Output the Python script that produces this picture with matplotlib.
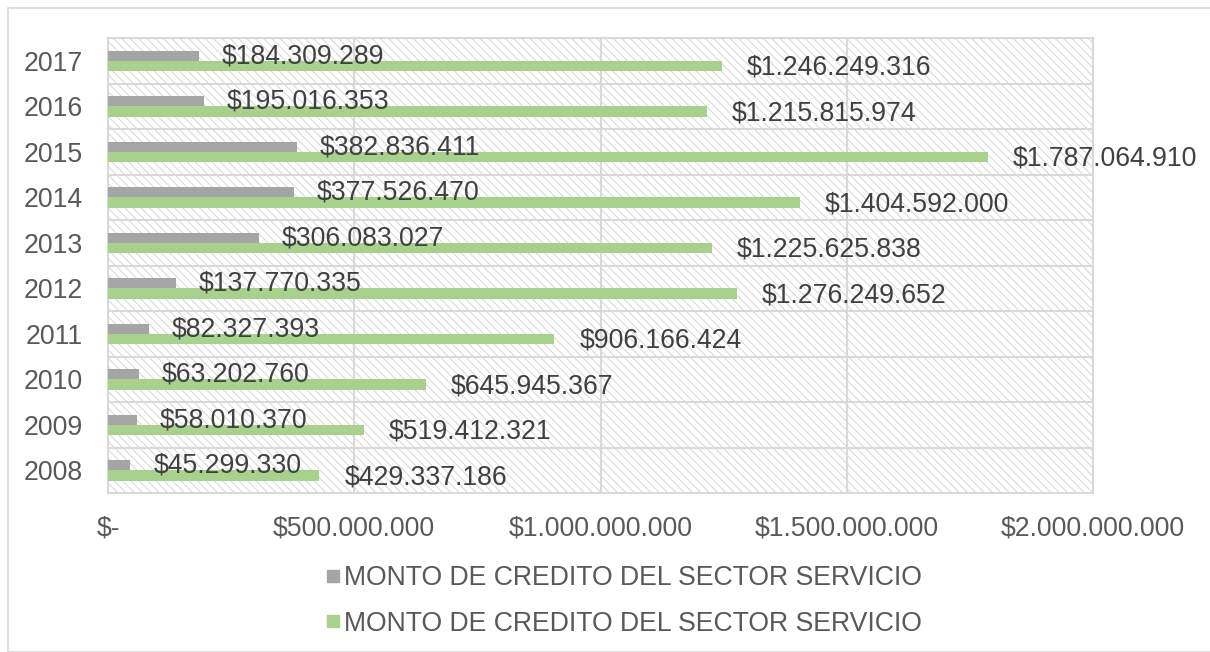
import matplotlib.pyplot as plt
from matplotlib.patches import Rectangle
from matplotlib.lines import Line2D

plt.rcParams['font.family'] = ['Liberation Sans', 'DejaVu Sans']
plt.rcParams['hatch.linewidth'] = 0.7

years = ['2008', '2009', '2010', '2011', '2012', '2013', '2014', '2015', '2016', '2017']
gray_vals = [45299330, 58010370, 63202760, 82327393, 137770335,
             306083027, 377526470, 382836411, 195016353, 184309289]
green_vals = [429337186, 519412321, 645945367, 906166424, 1276249652,
              1225625838, 1404592000, 1787064910, 1215815974, 1246249316]
xticks = [0, 500000000, 1000000000, 1500000000, 2000000000]
serie_label = 'MONTO DE CREDITO DEL SECTOR SERVICIO'

txt = '#595959'
grid_c = '#d9d9d9'
gray_c = '#a5a5a5'
green_c = '#a9d18e'
FS = 19.2


def money(v):
    if v == 0:
        return '$-'
    return '$' + f'{v:,}'.replace(',', '.')


fig = plt.figure(figsize=(12.1, 6.52), dpi=100)
ax = fig.add_axes([108 / 1210, 1 - 493 / 652, 985 / 1210, 455 / 652])

# hatched background of plot area
ax.add_patch(Rectangle((0, 0), 1, 1, transform=ax.transAxes, facecolor='white',
                       edgecolor='#d6d6d6', hatch='\\' * 4, linewidth=0, zorder=0))

pos = list(range(len(years)))
h = 0.23
ax.barh([p + 0.1 for p in pos], gray_vals, height=h, color=gray_c, zorder=3)
ax.barh([p - 0.12 for p in pos], green_vals, height=h, color=green_c, zorder=3)

for p, g, v in zip(pos, gray_vals, green_vals):
    ax.annotate(money(g), (g, p + 0.1), xytext=(23, 0), textcoords='offset pixels',
                va='center', ha='left', fontsize=FS, color='#404040', zorder=5)
    ax.annotate(money(v), (v, p - 0.15), xytext=(25, 0), textcoords='offset pixels',
                va='center', ha='left', fontsize=FS, color='#404040', zorder=5)

ax.set_xlim(0, 2000000000)
ax.set_ylim(-0.5, len(years) - 0.5)
ax.set_xticks(xticks)
ax.set_xticklabels([money(t) for t in xticks])
ax.set_yticks(pos)
ax.set_yticklabels(years)
ax.set_yticks([p + 0.5 for p in pos[:-1]], minor=True)
ax.tick_params(axis='both', which='both', length=0, colors=txt, labelsize=FS)
ax.tick_params(axis='x', pad=16)
ax.tick_params(axis='y', pad=18)
ax.grid(axis='x', color=grid_c, linewidth=1.5, zorder=1)
ax.grid(axis='y', which='minor', color=grid_c, linewidth=1.5, zorder=1)
ax.set_axisbelow(False)
for s in ax.spines.values():
    s.set_color(grid_c)
    s.set_linewidth(1.5)

handles = [Line2D([], [], marker='s', linestyle='', color=gray_c, markersize=9),
           Line2D([], [], marker='s', linestyle='', color=green_c, markersize=9)]
fig.legend(handles, [serie_label, serie_label], loc='center',
           bbox_to_anchor=(622 / 1210, 1 - 601 / 652), frameon=False, ncol=1,
           fontsize=FS, labelcolor=txt, handletextpad=0.0, labelspacing=0.72,
           handlelength=0.8)

fig.add_artist(Rectangle((8 / 1210, 0), 1.5, 1 - 8 / 652, transform=fig.transFigure,
                         facecolor='none', edgecolor=grid_c, linewidth=1.2))

fig.savefig('out.png', dpi=100)
